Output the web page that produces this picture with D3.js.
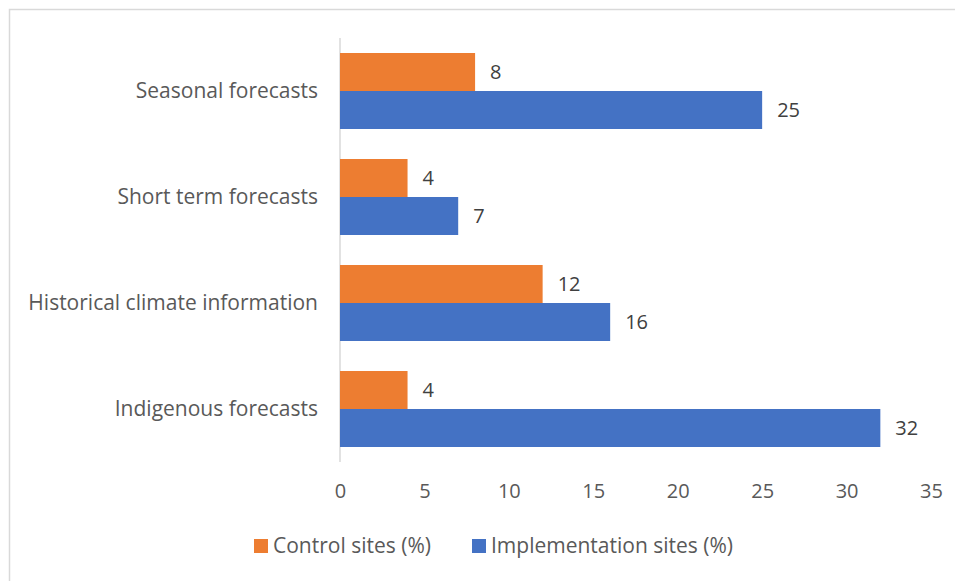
<!DOCTYPE html>
<html><head><meta charset="utf-8">
<script src="https://cdn.jsdelivr.net/npm/d3@7"></script>
<style>body{margin:0;background:#fff}svg{display:block}</style>
</head><body>
<script>
const categories = ["Seasonal forecasts","Short term forecasts","Historical climate information","Indigenous forecasts"];
const seriesNames = ["Control sites (%)","Implementation sites (%)"];
const controlValues = [8,4,12,4];
const implementationValues = [25,7,16,32];
const xTicks = [0,5,10,15,20,25,30,35];
const colors = ["#ED7D31","#4472C4"];

(function(){
const W=955,H=581;
const font="'Open Sans', sans-serif";
const fs=21, fsNum=20;
const textColor="#595959";
const svg=d3.select("body").append("svg").attr("width",W).attr("height",H);
svg.append("rect").attr("x",9.5).attr("y",9.5).attr("width",W).attr("height",H).attr("fill","#fff").attr("stroke","#d9d9d9").attr("stroke-width",1.5);

const pLeft=340,pRight=931,pTop=38,pBottom=462;
const x=d3.scaleLinear().domain([0,35]).range([pLeft,pRight]);
const y=d3.scaleBand().domain(categories).range([pTop,pBottom]).paddingInner(0.283).paddingOuter(0.1415);
const ys=d3.scaleBand().domain(seriesNames).range([0,y.bandwidth()]);

const data=categories.map((c,i)=>({cat:c,vals:[controlValues[i],implementationValues[i]]}));

svg.append("line").attr("x1",x(0)).attr("x2",x(0)).attr("y1",pTop).attr("y2",pBottom).attr("stroke","#d9d9d9").attr("stroke-width",1.5);

const g=svg.selectAll("g.cat").data(data).join("g").attr("class","cat").attr("transform",d=>`translate(0,${y(d.cat)})`);
g.selectAll("rect").data(d=>d.vals.map((v,j)=>({v,j}))).join("rect")
 .attr("x",x(0)).attr("y",d=>ys(seriesNames[d.j])).attr("width",d=>x(d.v)-x(0)).attr("height",ys.bandwidth())
 .attr("fill",d=>colors[d.j]);
g.selectAll("text.val").data(d=>d.vals.map((v,j)=>({v,j}))).join("text").attr("class","val")
 .attr("x",d=>x(d.v)+15).attr("y",d=>ys(seriesNames[d.j])+ys.bandwidth()/2).attr("dy","0.35em")
 .attr("font-family",font).attr("font-size",fsNum).attr("fill","#404040").text(d=>d.v);

const ya=d3.axisLeft(y).tickSize(0).tickPadding(22);
const yg=svg.append("g").attr("transform",`translate(${x(0)},0)`).call(ya);
yg.select(".domain").remove();
yg.selectAll("text").attr("font-family",font).attr("font-size",fs).attr("fill",textColor);

const xa=d3.axisBottom(x).tickValues(xTicks).tickSize(0).tickPadding(22);
const xg=svg.append("g").attr("transform",`translate(0,${pBottom})`).call(xa);
xg.select(".domain").remove();
xg.selectAll("text").attr("font-family",font).attr("font-size",fsNum).attr("fill",textColor);

const legX=[254,472];
const lg=svg.selectAll("g.leg").data(seriesNames).join("g").attr("class","leg").attr("transform",(d,i)=>`translate(${legX[i]},539)`);
lg.append("rect").attr("width",14).attr("height",14).attr("fill",(d,i)=>colors[i]);
lg.append("text").attr("x",19).attr("y",7).attr("dy","0.35em").attr("font-family",font).attr("font-size",fs).attr("fill",textColor).text(d=>d);
})();
</script>
</body></html>
